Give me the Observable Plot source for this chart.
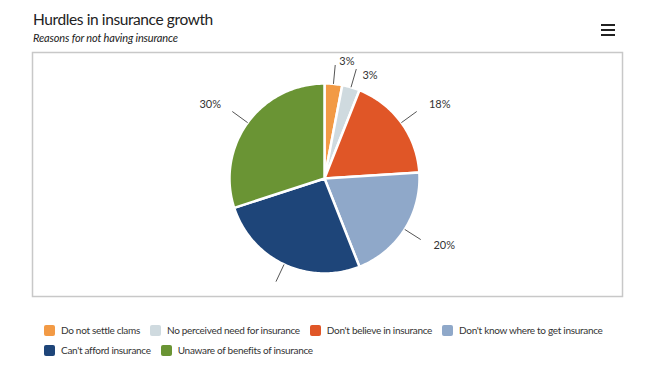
<!DOCTYPE html>
<html><head><meta charset="utf-8">
<script src="https://cdn.jsdelivr.net/npm/d3@7"></script>
<script src="https://cdn.jsdelivr.net/npm/@observablehq/plot@0.6"></script>
<style>
body{margin:0;background:#fff;font-family:Lato,"Open Sans",sans-serif;width:647px;height:375px;overflow:hidden;position:relative}
#head{position:relative;height:50px}
#title{position:absolute;left:33px;top:10px;font-size:15.5px;letter-spacing:-0.4px;color:#222;white-space:nowrap}
#sub{position:absolute;left:33px;top:31px;font-size:11px;letter-spacing:-0.15px;font-style:italic;color:#222;white-space:nowrap}
#menu{position:absolute;left:601px;top:24px;width:14px}
#menu div{height:2px;background:#222;margin-bottom:3px}
#legend{position:absolute;left:44px;top:323px;width:580px;display:flex;flex-wrap:wrap;row-gap:6px;font-size:10px;letter-spacing:-0.3px;color:#333}
.item{display:flex;align-items:center;margin-right:10px;height:14px;white-space:nowrap}
.sw{width:11px;height:11px;border-radius:2px;margin-right:6px}
</style></head>
<body>
<div id="head"><div id="title"></div><div id="sub"></div><div id="menu"><div></div><div></div><div></div></div></div>
<div id="chart"></div>
<div id="legend"></div>
<script>
const titleText = "Hurdles in insurance growth";
const subtitleText = "Reasons for not having insurance";
const categories = ["Do not settle clams","No perceived need for insurance","Don't believe in insurance","Don't know where to get insurance","Can't afford insurance","Unaware of benefits of insurance"];
const values = [3, 3, 18, 20, 26, 30];
const colors = ["#F29A45","#CFDADF","#E05627","#8FA8C9","#1E4579","#6A9434"];

document.getElementById("title").textContent = titleText;
document.getElementById("sub").textContent = subtitleText;

const pie = d3.pie().sort(null).value(d => d)(values);

// slice polygons in unit-radius data space
const slicePts = [];
pie.forEach((p, i) => {
  const key = categories[i];
  slicePts.push({key, x: 0, y: 0});
  const n = Math.max(2, Math.ceil((p.endAngle - p.startAngle) / (Math.PI / 180)));
  for (let k = 0; k <= n; k++) {
    const a = p.startAngle + (p.endAngle - p.startAngle) * k / n;
    slicePts.push({key, x: Math.sin(a), y: Math.cos(a)});
  }
  slicePts.push({key, x: 0, y: 0});
});

const px = 1 / 95; // one pixel in data units
const xDomain = [-292 * px, 298 * px];
const yDomain = [-118 * px, 126 * px];

// labels (Highcharts-like distribution)
const labels = pie.map((p, i) => {
  const a = (p.startAngle + p.endAngle) / 2;
  return {key: categories[i], text: values[i] + "%", a,
    ex: Math.sin(a), ey: Math.cos(a),
    cx: 1.2 * Math.sin(a), cy: 1.2 * Math.cos(a),
    lx: 1.32 * Math.sin(a), ly: 1.32 * Math.cos(a),
    side: Math.sin(a) >= 0 ? "right" : "left"};
});
for (const side of ["right", "left"]) {
  const g = labels.filter(d => d.side === side).sort((a, b) => b.ly - a.ly);
  let prev = yDomain[1] - 9 * px + 14 * px;
  for (const d of g) {
    d.ly = Math.min(d.ly, prev - 14 * px);
    prev = d.ly;
  }
}
labels.forEach(d => d.visible = d.ly - 7 * px >= yDomain[0]);

const plot = Plot.plot({
  width: 647, height: 250,
  marginLeft: 32, marginRight: 25, marginTop: 2, marginBottom: 4,
  x: {domain: xDomain, axis: null},
  y: {domain: yDomain, axis: null},
  color: {domain: categories, range: colors},
  style: {fontFamily: "Lato, 'Open Sans', sans-serif", fontSize: "11px", background: "#fff"},
  marks: [
    Plot.frame({stroke: "#c8c8c8", strokeWidth: 1.5}),
    Plot.line(slicePts, {x: "x", y: "y", z: "key", fill: "key", stroke: "#fff", strokeWidth: 2.5, strokeLinejoin: "round"}),
    Plot.link(labels, {x1: "ex", y1: "ey", x2: "cx", y2: "cy", stroke: "#555", strokeWidth: 1}),
    Plot.text(labels.filter(d => d.visible && d.side === "right"), {x: "lx", y: "ly", text: "text", textAnchor: "start", dx: 3, fill: "#333"}),
    Plot.text(labels.filter(d => d.visible && d.side === "left"), {x: "lx", y: "ly", text: "text", textAnchor: "end", dx: -2, fill: "#333"})
  ]
});
document.getElementById("chart").appendChild(plot);

const leg = document.getElementById("legend");
categories.forEach((c, i) => {
  const it = document.createElement("div"); it.className = "item";
  const sw = document.createElement("div"); sw.className = "sw"; sw.style.background = colors[i];
  const t = document.createElement("span"); t.textContent = c;
  it.appendChild(sw); it.appendChild(t); leg.appendChild(it);
});
</script>
</body></html>
